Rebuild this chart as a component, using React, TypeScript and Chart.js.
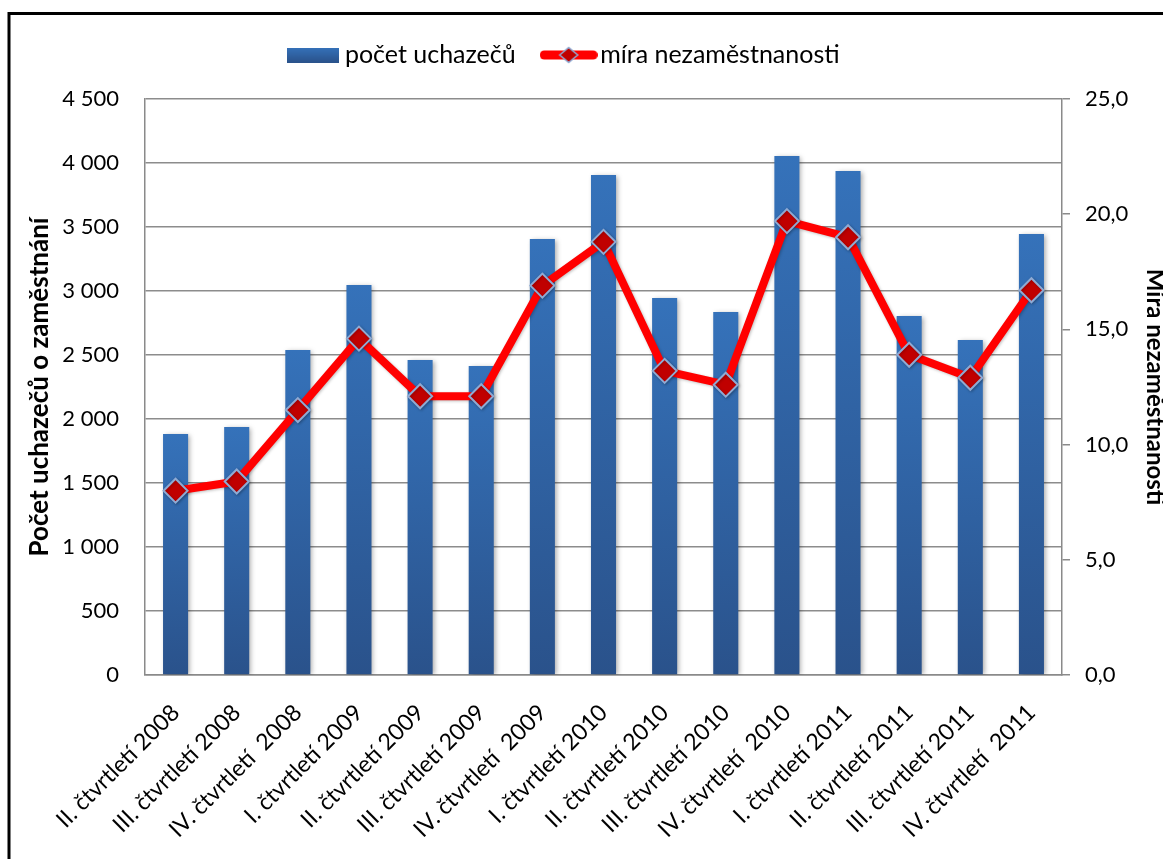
import React, { useEffect, useRef } from "react";
import { Chart, registerables } from "chart.js";

Chart.register(...registerables);

const categories = [
  "II. čtvrtletí 2008",
  "III. čtvrtletí 2008",
  "IV. čtvrtletí  2008",
  "I. čtvrtletí 2009",
  "II. čtvrtletí 2009",
  "III. čtvrtletí 2009",
  "IV. čtvrtletí  2009",
  "I. čtvrtletí 2010",
  "II. čtvrtletí 2010",
  "III. čtvrtletí 2010",
  "IV. čtvrtletí  2010",
  "I. čtvrtletí 2011",
  "II. čtvrtletí 2011",
  "III. čtvrtletí 2011",
  "IV. čtvrtletí  2011",
];

const uchazeci = [1883, 1938, 2539, 3047, 2461, 2414, 3406, 3906, 2945, 2836, 4055, 3938, 2805, 2617, 3445];
const mira = [8.0, 8.4, 11.5, 14.6, 12.1, 12.1, 16.9, 18.8, 13.2, 12.6, 19.7, 19.0, 13.9, 12.9, 16.7];

const leftMax = 4500;
const leftStep = 500;
const rightMax = 25;
const rightStep = 5;

const seriesBarLabel = "počet uchazečů";
const seriesLineLabel = "míra nezaměstnanosti";
const leftTitle = "Počet uchazečů o zaměstnání";
const rightTitle = "Míra nezaměstnanosti";

const FONT = "Lato";
const BAR_TOP = "#3572BA";
const BAR_BOTTOM = "#2A528B";

function makeBarLegendIcon(): HTMLCanvasElement {
  const c = document.createElement("canvas");
  c.width = 52;
  c.height = 15;
  const x = c.getContext("2d")!;
  const g = x.createLinearGradient(0, 0, 0, 15);
  g.addColorStop(0, BAR_TOP);
  g.addColorStop(1, BAR_BOTTOM);
  x.fillStyle = g;
  x.fillRect(0, 0, 52, 15);
  return c;
}

function makeLineLegendIcon(): HTMLCanvasElement {
  const c = document.createElement("canvas");
  c.width = 58;
  c.height = 18;
  const x = c.getContext("2d")!;
  x.strokeStyle = "#FF0000";
  x.lineWidth = 9;
  x.lineCap = "round";
  x.beginPath();
  x.moveTo(4.5, 9);
  x.lineTo(53.5, 9);
  x.stroke();
  x.beginPath();
  x.moveTo(29 - 9, 9);
  x.lineTo(29, 1.5);
  x.lineTo(29 + 9, 9);
  x.lineTo(29, 16.5);
  x.closePath();
  x.fillStyle = "#C00000";
  x.fill();
  x.strokeStyle = "#8FAAD3";
  x.lineWidth = 1.5;
  x.stroke();
  return c;
}

const framePlugin = {
  id: "frame",
  afterDraw(chart: any) {
    const ctx = chart.ctx;
    ctx.save();
    ctx.strokeStyle = "#000";
    ctx.lineWidth = 3;
    ctx.beginPath();
    ctx.moveTo(9, chart.height + 5);
    ctx.lineTo(9, 13.5);
    ctx.lineTo(chart.width + 5, 13.5);
    ctx.stroke();
    ctx.restore();
  },
};

const shadowPlugin = {
  id: "barShadow",
  beforeDatasetDraw(chart: any, args: any) {
    const ctx = chart.ctx;
    ctx.save();
    if (args.index === 0) {
      ctx.shadowColor = "rgba(0,0,0,0.35)";
      ctx.shadowBlur = 5;
      ctx.shadowOffsetX = 2;
      ctx.shadowOffsetY = 1;
    } else {
      ctx.shadowColor = "rgba(0,0,0,0.25)";
      ctx.shadowBlur = 3;
      ctx.shadowOffsetX = 1;
      ctx.shadowOffsetY = 1;
    }
  },
  afterDatasetDraw(chart: any) {
    chart.ctx.restore();
  },
};

const bgPlugin = {
  id: "bg",
  beforeDraw(chart: any) {
    const ctx = chart.ctx;
    ctx.save();
    ctx.fillStyle = "#fff";
    ctx.fillRect(0, 0, chart.width, chart.height);
    ctx.restore();
  },
};

export default function App() {
  const ref = useRef<HTMLCanvasElement>(null);

  useEffect(() => {
    if (!ref.current) return;
    const barIcon = makeBarLegendIcon();
    const lineIcon = makeLineLegendIcon();

    const chart = new Chart(ref.current, {
      type: "bar",
      data: {
        labels: categories,
        datasets: [
          {
            type: "bar",
            label: seriesBarLabel,
            data: uchazeci,
            yAxisID: "y",
            order: 2,
            backgroundColor: (c: any) => {
              const chart = c.chart;
              const ys = chart.scales?.y;
              if (!ys || c.type !== "data" || !chart.chartArea) return BAR_TOP;
              const top = ys.getPixelForValue(c.raw);
              const bottom = ys.getPixelForValue(0);
              if (!isFinite(top) || !isFinite(bottom) || bottom <= top) return BAR_TOP;
              const g = chart.ctx.createLinearGradient(0, top, 0, bottom);
              g.addColorStop(0, BAR_TOP);
              g.addColorStop(1, BAR_BOTTOM);
              return g;
            },
            borderWidth: 0,
            barPercentage: 0.41,
            categoryPercentage: 1,
          } as any,
          {
            type: "line",
            label: seriesLineLabel,
            data: mira,
            yAxisID: "y1",
            order: 1,
            borderColor: "#FF0000",
            backgroundColor: "#FF0000",
            borderWidth: 8,
            tension: 0,
            pointStyle: "rectRot",
            pointRadius: 12,
            pointBackgroundColor: "#C00000",
            pointBorderColor: "#8FAAD3",
            pointBorderWidth: 2,
          } as any,
        ],
      },
      options: {
        responsive: false,
        animation: false,
        devicePixelRatio: 1,
        layout: { padding: { left: 0, right: 29, top: 8.5, bottom: 0 } },
        plugins: {
          tooltip: { enabled: false },
          title: {
            display: true,
            text: "",
            weight: 500,
            font: { size: 1 },
            padding: { top: 20.3, bottom: 0 },
          } as any,
          legend: {
            display: true,
            position: "top",
            labels: {
              usePointStyle: true,
              pointStyleWidth: 38,
              boxHeight: 15,
              padding: 34,
              color: "#000",
              font: { family: FONT, size: 25 },
              generateLabels: () => [
                {
                  text: seriesBarLabel,
                  pointStyle: barIcon as any,
                  fillStyle: BAR_TOP,
                  strokeStyle: BAR_TOP,
                  lineWidth: 0,
                  hidden: false,
                  datasetIndex: 0,
                } as any,
                {
                  text: seriesLineLabel,
                  pointStyle: lineIcon as any,
                  fillStyle: "#FF0000",
                  strokeStyle: "#FF0000",
                  lineWidth: 0,
                  hidden: false,
                  datasetIndex: 1,
                } as any,
              ],
            },
          },
        },
        scales: {
          x: {
            grid: { display: false },
            border: { display: true, color: "#8A8A8A", width: 1.5 },
            ticks: {
              color: "#000",
              font: { family: FONT, size: 23 },
              minRotation: 45,
              maxRotation: 45,
              padding: 16,
              autoSkip: false,
            },
            afterFit: (s: any) => {
              s.height = 184;
            },
          },
          y: {
            position: "left",
            min: 0,
            max: leftMax,
            grid: {
              color: "#8C8C8C",
              lineWidth: 1.5,
              drawTicks: false,
            },
            border: { display: true, color: "#8A8A8A", width: 1.5 },
            ticks: {
              stepSize: leftStep,
              color: "#000",
              font: { family: FONT, size: 22 },
              padding: 26,
              callback: (v: any) => String(v).replace(/\B(?=(\d{3})+(?!\d))/g, " "),
            },
            title: {
              display: true,
              text: leftTitle,
              color: "#000",
              font: { family: FONT, size: 26, weight: "bold" },
              padding: { top: 24, bottom: 0 },
            },
            afterFit: (s: any) => {
              s.width = 145;
            },
          },
          y1: {
            position: "right",
            min: 0,
            max: rightMax,
            grid: {
              drawOnChartArea: false,
              drawTicks: true,
              tickLength: 8,
              color: "#8A8A8A",
              lineWidth: 1.5,
            },
            border: { display: true, color: "#8A8A8A", width: 1.5 },
            ticks: {
              stepSize: rightStep,
              color: "#000",
              font: { family: FONT, size: 22 },
              padding: 15,
              callback: (v: any) => Number(v).toFixed(1).replace(".", ","),
            },
            title: {
              display: true,
              text: rightTitle,
              color: "#000",
              font: { family: FONT, size: 24, weight: "bold" },
              padding: { top: -35.4, bottom: 0 },
            },
            afterFit: (s: any) => {
              s.width = 1134 - 1062;
            },
          },
        },
      },
      plugins: [bgPlugin, shadowPlugin, framePlugin],
    });
    return () => chart.destroy();
  }, []);

  return (
    <div style={{ position: "fixed", left: 0, top: 0, width: 1163, height: 859, overflow: "hidden", background: "#fff" }}>
      <canvas ref={ref} width={1163} height={859} style={{ width: 1163, height: 859, display: "block" }} />
    </div>
  );
}
